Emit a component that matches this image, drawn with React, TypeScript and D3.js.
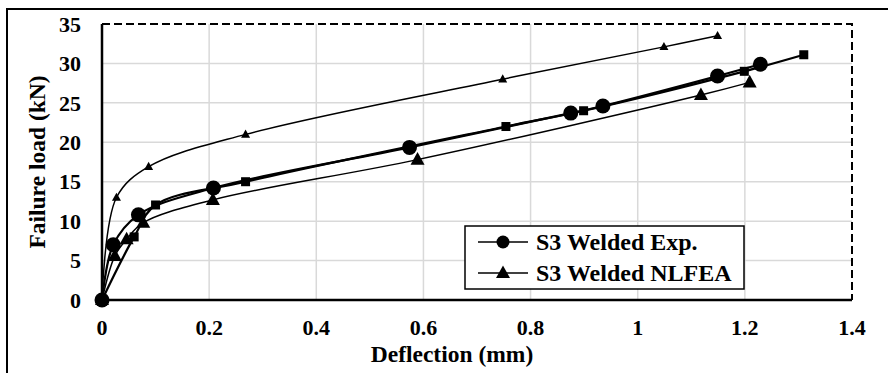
import React from "react";
import * as d3 from "d3";

// S3 Welded Exp. (circles)
const expX = [0, 0.021, 0.068, 0.208, 0.574, 0.875, 0.935, 1.149, 1.229];
const expY = [0, 7.0, 10.8, 14.2, 19.35, 23.7, 24.6, 28.4, 29.9];
// S3 Welded NLFEA (large triangles)
const feaX = [0, 0.024, 0.046, 0.077, 0.207, 0.589, 1.118, 1.209];
const feaY = [0, 5.6, 7.7, 9.8, 12.7, 17.8, 26.0, 27.6];
// unlabelled series with small triangles
const triX = [0, 0.027, 0.087, 0.268, 0.748, 1.049, 1.149];
const triY = [0, 13.0, 16.9, 21.0, 28.0, 32.1, 33.5];
// unlabelled series with squares
const sqX = [0, 0.06, 0.1, 0.268, 0.754, 0.899, 1.199, 1.31];
const sqY = [0, 8.0, 12.05, 15.0, 22.0, 24.0, 29.0, 31.1];

const xTicks = [0, 0.2, 0.4, 0.6, 0.8, 1, 1.2, 1.4];
const yTicks = [0, 5, 10, 15, 20, 25, 30, 35];
const legendLabels = ["S3 Welded Exp.", "S3 Welded NLFEA"];

const width = 888;
const height = 373;
const margin = { top: 24, right: 36, bottom: 73, left: 102 };
const font = "Liberation Serif";

function zip(xs, ys) {
    return xs.map((x, i) => [x, ys[i]]);
}

function triPath(size) {
    const h = size * 0.9;
    return `M0,${-h * 0.6}L${size / 2},${h * 0.4}L${-size / 2},${h * 0.4}Z`;
}

export default function App() {
    const x = d3.scaleLinear().domain([0, 1.4]).range([margin.left, width - margin.right]);
    const y = d3.scaleLinear().domain([0, 35]).range([height - margin.bottom, margin.top]);

    const line = d3.line()
        .x(d => x(d[0]))
        .y(d => y(d[1]))
        .curve(d3.curveCatmullRom.alpha(0.5));

    const exp = zip(expX, expY);
    const fea = zip(feaX, feaY);
    const tri = zip(triX, triY);
    const sq = zip(sqX, sqY);

    const x0 = x(0), x1 = x(1.4), y0 = y(0), y1 = y(35);

    return (
        <svg width={width} height={height} style={{ position: "absolute", left: 0, top: 0 }}>
            <rect x={0} y={0} width={width} height={height} fill="#fff" />
            {/* outer frame (cropped on right and bottom) */}
            <rect x={7} y={9} width={width + 20} height={height + 20} fill="none" stroke="#000" strokeWidth={2} />

            {/* grid */}
            {xTicks.slice(1, -1).map(t => (
                <line key={"gx" + t} x1={x(t)} x2={x(t)} y1={y1} y2={y0} stroke="#d9d9d9" strokeWidth={1.5} />
            ))}
            {yTicks.slice(1, -1).map(t => (
                <line key={"gy" + t} x1={x0} x2={x1} y1={y(t)} y2={y(t)} stroke="#d9d9d9" strokeWidth={1.5} />
            ))}

            {/* dashed top and right */}
            <path d={`M${x0},${y1}H${x1}V${y0}`} fill="none" stroke="#000" strokeWidth={2} strokeDasharray="8,4" />
            {/* axes */}
            <line x1={x0} x2={x0} y1={y1} y2={y0} stroke="#000" strokeWidth={2.5} />
            <line x1={x0} x2={x1} y1={y0} y2={y0} stroke="#000" strokeWidth={2.5} />

            {/* tick labels */}
            {yTicks.map(t => (
                <text key={"ty" + t} x={81} y={y(t)} dy="0.35em" textAnchor="end"
                    fontFamily={font} fontWeight="bold" fontSize={22}>{t}</text>
            ))}
            {xTicks.map(t => (
                <text key={"tx" + t} x={x(t)} y={335} textAnchor="middle"
                    fontFamily={font} fontWeight="bold" fontSize={22}>{t}</text>
            ))}
            <text x={(x0 + x1) / 2 - 25} y={362} textAnchor="middle" fontFamily={font} fontWeight="bold" fontSize={23.5}>
                Deflection (mm)
            </text>
            <text transform={`translate(37,${(y0 + y1) / 2}) rotate(-90)`} textAnchor="middle" dy="0.35em"
                fontFamily={font} fontWeight="bold" fontSize={23.5}>
                Failure load (kN)
            </text>

            {/* series lines */}
            <path d={line(tri)} fill="none" stroke="#000" strokeWidth={1.5} />
            <path d={line(fea)} fill="none" stroke="#000" strokeWidth={1.5} />
            <path d={line(sq)} fill="none" stroke="#000" strokeWidth={2.25} />
            <path d={line(exp)} fill="none" stroke="#000" strokeWidth={2.25} />

            {/* markers */}
            {tri.map((d, i) => (
                <path key={"mt" + i} d={triPath(9)} transform={`translate(${x(d[0])},${y(d[1])})`} fill="#000" />
            ))}
            {sq.map((d, i) => (
                <rect key={"ms" + i} x={x(d[0]) - 4.5} y={y(d[1]) - 4.5} width={9} height={9} fill="#000" />
            ))}
            {fea.map((d, i) => (
                <path key={"mf" + i} d={triPath(14)} transform={`translate(${x(d[0])},${y(d[1])})`} fill="#000" />
            ))}
            {exp.map((d, i) => (
                <circle key={"mc" + i} cx={x(d[0])} cy={y(d[1])} r={7.5} fill="#000" />
            ))}

            {/* legend */}
            <g>
                <rect x={465} y={226} width={279} height={63} fill="#fff" stroke="#000" strokeWidth={1.5} />
                {legendLabels.map((lab, i) => {
                    const ly = 242 + i * 31;
                    return (
                        <g key={lab}>
                            <line x1={478} x2={528} y1={ly} y2={ly} stroke="#000" strokeWidth={1.5} />
                            {i === 0
                                ? <circle cx={503} cy={ly} r={6.5} fill="#000" />
                                : <path d={triPath(14)} transform={`translate(503,${ly})`} fill="#000" />}
                            <text x={536} y={ly} dy="0.35em" fontFamily={font} fontWeight="bold" fontSize={24}>{lab}</text>
                        </g>
                    );
                })}
            </g>
        </svg>
    );
}
